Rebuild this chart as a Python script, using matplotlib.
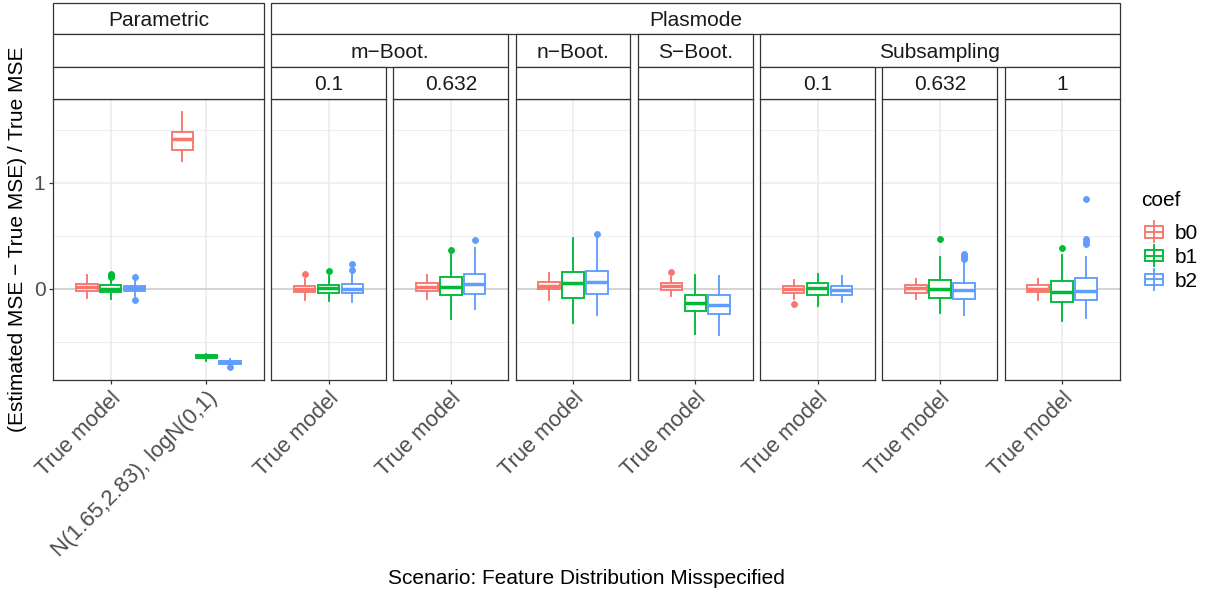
import matplotlib
matplotlib.use("Agg")
import matplotlib.pyplot as plt
from matplotlib.patches import Rectangle
from matplotlib.lines import Line2D
import numpy as np

plt.rcParams['font.family'] = ['Liberation Sans', 'DejaVu Sans']

W, H = 1210, 599

# ---------------- data ----------------
coefs = ["b0", "b1", "b2"]
coef_colors = ["#F8766D", "#00BA38", "#619CFF"]

panel_groups = ["Parametric", "Plasmode", "Plasmode", "Plasmode", "Plasmode",
                "Plasmode", "Plasmode", "Plasmode"]
panel_methods = ["", "m\u2212Boot.", "m\u2212Boot.", "n\u2212Boot.", "S\u2212Boot.",
                 "Subsampling", "Subsampling", "Subsampling"]
panel_params = ["", "0.1", "0.632", "", "", "0.1", "0.632", "1"]
panel_categories = [["True model", "N(1.65,2.83), logN(0,1)"],
                    ["True model"], ["True model"], ["True model"], ["True model"],
                    ["True model"], ["True model"], ["True model"]]

# one entry per (panel, category) box group
box_panel = [0, 0, 1, 2, 3, 4, 5, 6, 7]
box_cat = [0, 1, 0, 0, 0, 0, 0, 0, 0]

b0_lo = [-0.088, 1.204, -0.103, -0.094, -0.103, -0.066, -0.097, -0.094, -0.103]
b0_q1 = [-0.025, 1.310, -0.028, -0.022, -0.006, -0.013, -0.041, -0.041, -0.031]
b0_med = [0.012, 1.414, 0.000, 0.016, 0.028, 0.022, -0.003, 0.003, 0.000]
b0_q3 = [0.047, 1.480, 0.028, 0.056, 0.063, 0.053, 0.028, 0.035, 0.035]
b0_hi = [0.125, 1.668, 0.091, 0.129, 0.148, 0.107, 0.085, 0.091, 0.094]
b0_out = [[], [], [0.141], [], [], [0.157], [-0.144], [], []]

b1_lo = [-0.094, -0.680, -0.116, -0.285, -0.326, -0.426, -0.160, -0.232, -0.304]
b1_q1 = [-0.031, -0.652, -0.038, -0.056, -0.085, -0.207, -0.063, -0.085, -0.125]
b1_med = [0.000, -0.637, 0.009, 0.013, 0.050, -0.132, 0.003, 0.000, -0.031]
b1_q3 = [0.031, -0.625, 0.038, 0.107, 0.154, -0.056, 0.050, 0.082, 0.069]
b1_hi = [0.080, -0.615, 0.120, 0.340, 0.477, 0.132, 0.141, 0.300, 0.317]
b1_out = [[0.115, 0.128, 0.140], [], [0.166], [0.365], [], [], [], [0.467], [0.385]]

b2_lo = [-0.070, -0.725, -0.122, -0.188, -0.251, -0.433, -0.122, -0.251, -0.279]
b2_q1 = [-0.020, -0.712, -0.041, -0.050, -0.050, -0.235, -0.060, -0.100, -0.103]
b2_med = [0.003, -0.695, 0.000, 0.047, 0.066, -0.154, -0.012, -0.009, -0.019]
b2_q3 = [0.030, -0.680, 0.044, 0.138, 0.163, -0.063, 0.022, 0.053, 0.100]
b2_hi = [0.080, -0.660, 0.141, 0.383, 0.477, 0.116, 0.116, 0.254, 0.297]
b2_out = [[0.113, -0.103], [-0.740], [0.179, 0.235], [0.455], [0.514], [], [],
          [0.280, 0.300, 0.315, 0.330], [0.420, 0.445, 0.465, 0.843]]

coef_stats = [
    (b0_lo, b0_q1, b0_med, b0_q3, b0_hi, b0_out),
    (b1_lo, b1_q1, b1_med, b1_q3, b1_hi, b1_out),
    (b2_lo, b2_q1, b2_med, b2_q3, b2_hi, b2_out),
]

y_label = "(Estimated MSE \u2212 True MSE) / True MSE"
x_label = "Scenario: Feature Distribution Misspecified"
legend_title = "coef"

# ---------------- layout (pixels) ----------------
fig = plt.figure(figsize=(W / 100, H / 100), dpi=100)

def fx(x):
    return x / W

def fy(y):
    return 1 - y / H

panel_left, panel_right = 53.3, 1119.5
panel_top, panel_bottom = 99.0, 380.0
gap = 7.5
strip_rows = [(2.7, 34.0), (34.0, 66.7), (66.7, 99.0)]

units = [len(c) + 0.2 for c in panel_categories]
unit_px = (panel_right - panel_left - gap * (len(units) - 1)) / sum(units)
panel_x = []
x = panel_left
for u in units:
    panel_x.append((x, x + u * unit_px))
    x += u * unit_px + gap

# y-range from data with 5% expansion
all_vals = []
for lo, q1, md, q3, hi, out in coef_stats:
    all_vals += lo + hi + [v for o in out for v in o]
ymin, ymax = min(all_vals), max(all_vals)
pad = 0.05 * (ymax - ymin)
ylim = (ymin - pad, ymax + pad)

TEXT_SIZE = 15.0
TICK_SIZE = 15.8
border_col = "#333333"
offsets = [-0.25, 0.0, 0.25]

axes = []
for p, (x0, x1) in enumerate(panel_x):
    ax = fig.add_axes([fx(x0), fy(panel_bottom), fx(x1) - fx(x0),
                       (panel_bottom - panel_top) / H])
    ncat = len(panel_categories[p])
    ax.set_xlim(-0.6, ncat - 1 + 0.6)
    ax.set_ylim(*ylim)
    ax.set_facecolor("white")
    for s in ax.spines.values():
        s.set_color(border_col)
        s.set_linewidth(0.9)
        s.set_zorder(5)
    ax.set_xticks(range(ncat))
    ax.set_xticklabels(panel_categories[p], rotation=45, ha="right", va="top",
                       rotation_mode="anchor", fontsize=TICK_SIZE, color="#4D4D4D")
    ax.set_yticks([0, 1])
    ax.set_yticks([-0.5, 0.5, 1.5], minor=True)
    ax.tick_params(axis="both", which="major", length=3.2, width=0.9,
                   color=border_col, pad=2.5)
    ax.tick_params(axis="y", which="minor", length=0)
    if p == 0:
        ax.set_yticklabels(["0", "1"], fontsize=TEXT_SIZE, color="#4D4D4D")
    else:
        ax.tick_params(axis="y", which="both", left=False, labelleft=False)
    ax.grid(which="major", color="#EBEBEB", linewidth=1.1)
    ax.grid(which="minor", axis="y", color="#EBEBEB", linewidth=0.6)
    ax.set_axisbelow(True)
    ax.axhline(0, color="#CCCCCC", linewidth=1.1, zorder=1)
    axes.append(ax)

# boxes
for ci, (lo, q1, md, q3, hi, out) in enumerate(coef_stats):
    col = coef_colors[ci]
    for b in range(len(box_panel)):
        ax = axes[box_panel[b]]
        st = [dict(whislo=lo[b], q1=q1[b], med=md[b], q3=q3[b], whishi=hi[b],
                   fliers=np.array(out[b]))]
        ax.bxp(st, positions=[box_cat[b] + offsets[ci]], widths=0.225,
               showcaps=False, patch_artist=True, manage_ticks=False,
               boxprops=dict(facecolor="white", edgecolor=col, linewidth=1.35),
               medianprops=dict(color=col, linewidth=2.5, solid_capstyle="butt"),
               whiskerprops=dict(color=col, linewidth=1.35),
               flierprops=dict(marker="o", markerfacecolor=col, markeredgecolor=col,
                               markersize=4.3, markeredgewidth=0.6, linestyle="none"))

# strips
def draw_strip(x0, x1, y0, y1, label):
    fig.add_artist(Rectangle((fx(x0), fy(y1)), fx(x1) - fx(x0), (y1 - y0) / H,
                             transform=fig.transFigure, facecolor="white",
                             edgecolor=border_col, linewidth=0.9, zorder=3))
    if label:
        fig.text(fx((x0 + x1) / 2), fy((y0 + y1) / 2), label, ha="center",
                 va="center_baseline", fontsize=TEXT_SIZE, color="#1A1A1A", zorder=4)

def spans(labels):
    out = []
    start = 0
    for i in range(1, len(labels) + 1):
        if i == len(labels) or labels[i] != labels[start] or labels[start] == "":
            out.append((start, i - 1, labels[start]))
            start = i
    return out

for row, labels in enumerate([panel_groups, panel_methods, panel_params]):
    y0, y1 = strip_rows[row]
    for a, b, lab in spans(labels):
        draw_strip(panel_x[a][0], panel_x[b][1], y0, y1, lab)

# axis titles
fig.text(fx(18), fy((panel_top + panel_bottom) / 2), y_label, rotation=90,
         ha="center", va="center", fontsize=TEXT_SIZE, color="black")
fig.text(fx((panel_left + panel_right) / 2), fy(579), x_label, ha="center",
         va="center", fontsize=TEXT_SIZE, color="black")

# legend
fig.text(fx(1141), fy(200), legend_title, ha="left", va="center",
         fontsize=TEXT_SIZE, color="black")
for ci, name in enumerate(coefs):
    yc = 231.7 + ci * 23.8
    col = coef_colors[ci]
    xk0, xk1 = 1145, 1163
    xc = (xk0 + xk1) / 2
    fig.add_artist(Line2D([fx(xc), fx(xc)], [fy(yc - 10.5), fy(yc + 10.5)],
                          transform=fig.transFigure, color=col, linewidth=1.35))
    fig.add_artist(Rectangle((fx(xk0), fy(yc + 5.8)), fx(xk1) - fx(xk0), 11.6 / H,
                             transform=fig.transFigure, facecolor="white",
                             edgecolor=col, linewidth=1.35))
    fig.add_artist(Line2D([fx(xk0), fx(xk1)], [fy(yc), fy(yc)],
                          transform=fig.transFigure, color=col, linewidth=1.35))
    fig.text(fx(1175), fy(yc), name, ha="left", va="center_baseline",
             fontsize=TEXT_SIZE, color="black")

fig.savefig("out.png", dpi=100, facecolor="white")
